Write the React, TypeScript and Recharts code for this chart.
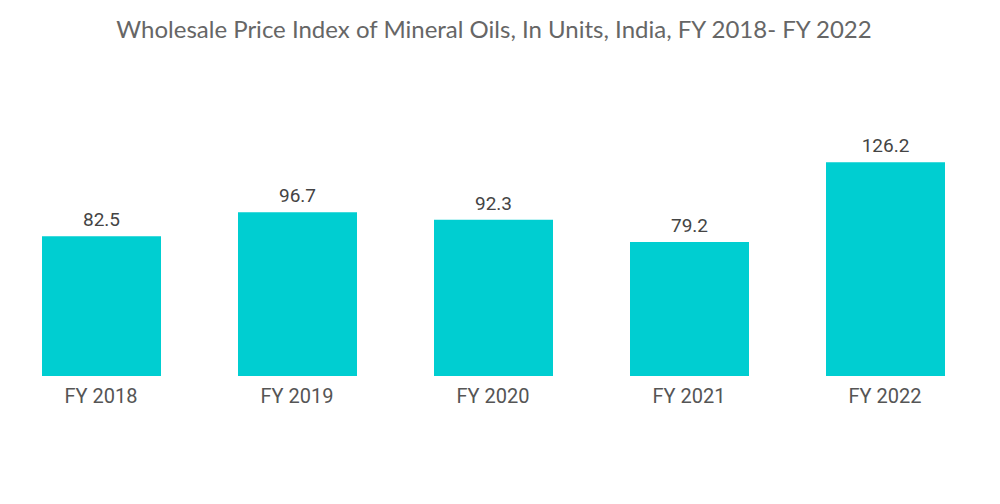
import { BarChart, Bar, XAxis, YAxis, LabelList } from "recharts";

const categories = ["FY 2018", "FY 2019", "FY 2020", "FY 2021", "FY 2022"];
const values = [82.5, 96.7, 92.3, 79.2, 126.2];

const chartData = categories.map((c, i) => ({ year: c, value: values[i] }));

const labelFont = "Roboto, sans-serif";

export default function App() {
  return (
    <div style={{ position: "absolute", left: 0, top: 0, width: 1000, height: 504, background: "#fff" }}>
      <div
        style={{
          position: "absolute",
          left: 0,
          top: 14,
          width: 988,
          textAlign: "center",
          fontFamily: "Lato, sans-serif",
          fontSize: 24,
          color: "#666",
        }}
      >
        Wholesale Price Index of Mineral Oils, In Units, India, FY 2018- FY 2022
      </div>
      <BarChart
        width={1000}
        height={504}
        data={chartData}
        margin={{ top: 139, right: 17, left: 3, bottom: 98 }}
      >
        <XAxis
          dataKey="year"
          axisLine={false}
          tickLine={false}
          height={30}
          tick={{ fill: "#555", fontSize: 20, fontFamily: labelFont }}
          tickMargin={7}
        />
        <YAxis hide domain={[0, 140]} />
        <Bar dataKey="value" fill="#00CED1" barSize={119} isAnimationActive={false}>
          <LabelList
            dataKey="value"
            position="top"
            offset={10}
            style={{ fill: "#444", fontSize: 19, fontFamily: labelFont }}
          />
        </Bar>
      </BarChart>
    </div>
  );
}
